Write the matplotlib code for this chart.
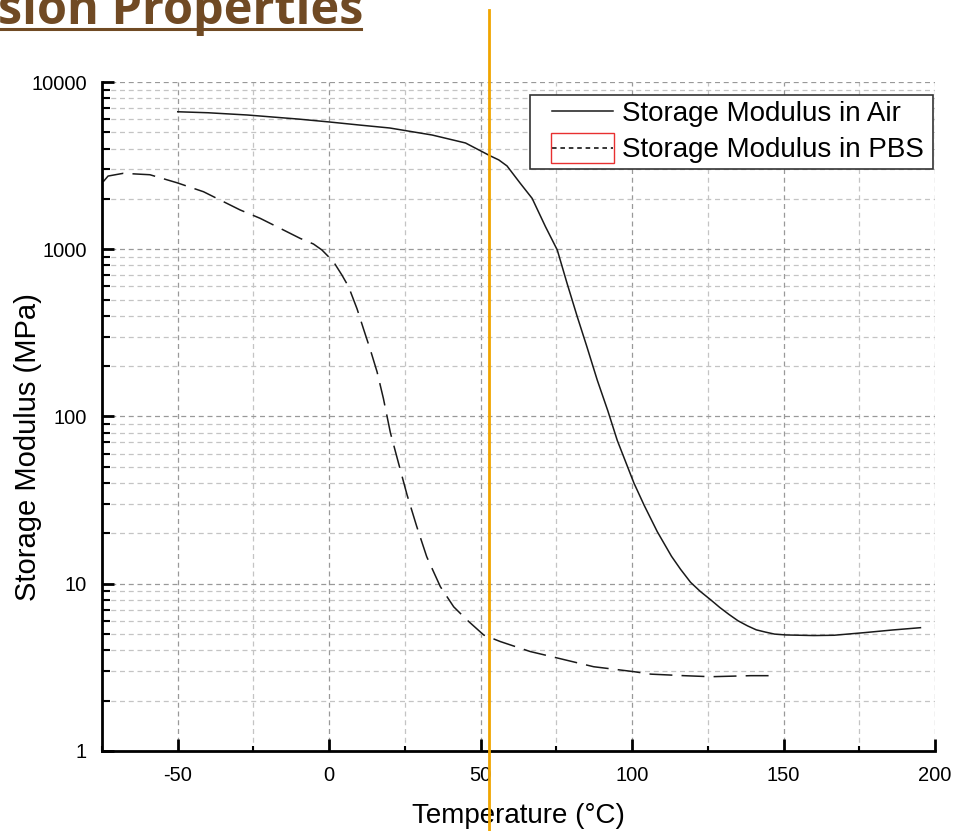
import matplotlib
matplotlib.use("Agg")
import matplotlib.pyplot as plt
from matplotlib.lines import Line2D
from matplotlib.patches import Rectangle
from matplotlib.legend_handler import HandlerLine2D
from matplotlib.ticker import LogLocator, MultipleLocator, NullFormatter

plt.rcParams['font.family'] = ['Liberation Sans', 'DejaVu Sans']
plt.rcParams['axes.unicode_minus'] = False

# Storage modulus in air (solid curve)
air_temp = [-50, -40, -27, -10, 0, 10, 20, 34, 45, 53, 56, 58.7, 63, 67, 71.4, 75.3,
            78.5, 81.9, 85, 88.5, 92, 95.1, 100.6, 104, 108.3, 113, 116, 119.3,
            122.5, 126, 129, 132, 135, 138.1, 141, 144, 147, 150.8, 160, 166.7,
            176.7, 186, 195.2]
air_mod = [6640, 6550, 6350, 6000, 5770, 5530, 5310, 4820, 4320, 3630, 3420, 3150,
           2490, 2015, 1365, 990, 628, 395, 264, 165, 108, 72, 40, 29.4, 20.5, 14.6,
           12.2, 10.2, 9.0, 8.0, 7.2, 6.55, 6.0, 5.6, 5.3, 5.14, 5.0, 4.94, 4.9,
           4.92, 5.10, 5.29, 5.46]

# Storage modulus in PBS (dashed curve)
pbs_temp = [-74.6, -73, -68, -59.2, -50.3, -41.5, -37.1, -29.4, -22.8, -16.2, -9.6,
            -5.2, -2.4, 1.4, 4.2, 6.4, 9.2, 11.3, 13.6, 15.8, 17.9, 20.2, 22.9,
            25.7, 28.9, 32.2, 36.7, 41.1, 45.5, 51.0, 56.5, 66.4, 72.5, 87.3,
            100.6, 106.2, 117.1, 126, 139.2, 145.2]
pbs_mod = [2535, 2740, 2845, 2790, 2500, 2208, 2015, 1718, 1531, 1334, 1162, 1075,
           990, 843, 701, 597, 440, 335, 250, 185, 128, 80, 52.5, 34.0, 22.0,
           14.5, 9.6, 7.28, 6.07, 4.94, 4.51, 3.93, 3.70, 3.19, 2.98, 2.88, 2.82,
           2.78, 2.82, 2.82]

xticks = [-50, 0, 50, 100, 150, 200]
yticks = [1, 10, 100, 1000, 10000]
ytick_labels = ['1', '10', '100', '1000', '10000']
marker_temp = 52.6  # orange vertical marker

fig = plt.figure(figsize=(9.68, 8.31), dpi=100)
ax = fig.add_axes([0.1054, 0.0963, 0.8605, 0.805])

air_line, = ax.plot(air_temp, air_mod, color='#1a1a1a', lw=1.1)
ax.plot(pbs_temp, pbs_mod, color='#1a1a1a', lw=1.1, ls=(0, (15, 6)))

ax.set_yscale('log')
ax.set_xlim(-75, 200)
ax.set_ylim(1, 10000)
ax.set_xticks(xticks)
ax.xaxis.set_minor_locator(MultipleLocator(25))
ax.set_yticks(yticks, labels=ytick_labels)
ax.yaxis.set_minor_locator(LogLocator(base=10, subs=range(2, 10)))
ax.yaxis.set_minor_formatter(NullFormatter())

ax.grid(True, which='major', color='#999999', ls=(0, (4, 3)), lw=0.9)
ax.grid(True, which='minor', color='#c4c4c4', ls=(0, (4, 3)), lw=0.9)

for s in ['top', 'right']:
    ax.spines[s].set_visible(False)
for s in ['left', 'bottom']:
    ax.spines[s].set_linewidth(2)
    ax.spines[s].set_color('black')

ax.tick_params(which='major', direction='in', length=8.5, width=2, labelsize=14.5, pad=11)
ax.tick_params(axis='x', which='minor', direction='in', length=3.6, width=1.5)
ax.tick_params(axis='y', which='minor', direction='in', length=5.8, width=1.5)

ax.set_xlabel('Temperature (°C)', fontsize=20, labelpad=13)
ax.set_ylabel('Storage Modulus (MPa)', fontsize=21)
ax.yaxis.set_label_coords(-0.072, 0.455)

pbs_proxy = Line2D([], [], color='black', lw=1.1, ls=(0, (3, 2.5)))
leg = ax.legend([air_line, pbs_proxy],
                ['Storage Modulus in Air', 'Storage Modulus in PBS'],
                loc='upper left', bbox_to_anchor=(0.5138, 0.0, 0.4838, 0.9806),
                mode='expand', borderaxespad=0,
                fontsize=20, fancybox=False, framealpha=1, edgecolor='#333333',
                handlelength=2.77, handletextpad=0.32, labelspacing=0.37,
                borderpad=0.22, handler_map={Line2D: HandlerLine2D(xpad=0.58)})
leg.get_frame().set_linewidth(1.2)

ax.axvline(marker_temp, ymin=-0.12, ymax=1.108, clip_on=False, color='#f0a500',
           lw=2, zorder=10)

# cut-off slide title
fig.text(-0.002, 0.9711, 'sion Properties', fontsize=35, fontweight='bold',
         family='Open Sans', color='#704a24', ha='left', va='baseline')
fig.add_artist(Line2D([0, 0.373], [0.9657, 0.9657], color='#704a24', lw=2.2))

# red box around the PBS legend handle
fig.canvas.draw()
bb = leg.legend_handles[1].get_window_extent(fig.canvas.get_renderer())
W, H = fig.bbox.width, fig.bbox.height
yc = (bb.y0 + bb.y1) / 2
fig.add_artist(Rectangle(((bb.x0 - 1) / W, (yc - 15) / H), (bb.width + 2) / W, 30 / H,
                         fill=False, edgecolor='#e83030', lw=1))

fig.savefig('out.png', dpi=100)
